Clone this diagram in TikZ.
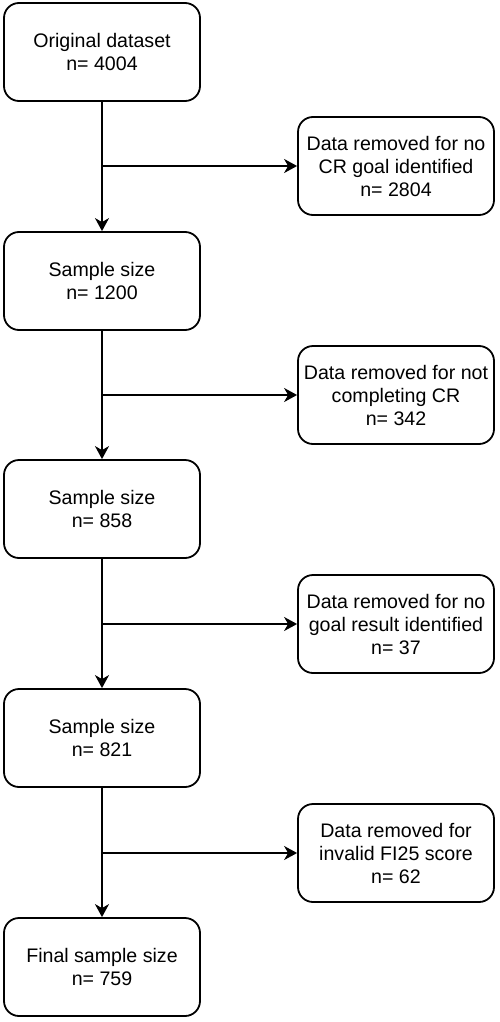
\documentclass[tikz,border=0pt]{standalone}
\usepackage{fontspec}
\setmainfont{Liberation Sans}
\usetikzlibrary{arrows.meta}
\begin{document}
\begin{tikzpicture}[x=1pt,y=-1pt,
  box/.style={draw, line width=1.8pt, rounded corners=15pt, minimum width=196pt, minimum height=98pt, align=center, inner sep=0pt, font=\fontsize{19.6}{23}\selectfont},
  conn/.style={line width=1.8pt, -{Stealth[width=14pt,length=13pt,inset=4pt]}}]
\useasboundingbox (0,0) rectangle (500,1022);
\node[box] (a1) at (102,52) {Original dataset\\n= 4004};
\node[box] (a2) at (102,281) {Sample size\\n= 1200};
\node[box] (a3) at (102,509) {Sample size\\n= 858};
\node[box] (a4) at (102,738) {Sample size\\n= 821};
\node[box] (a5) at (102,967) {Final sample size\\n= 759};
\node[box] (r1) at (396,166) {Data removed for no\\CR goal identified\\n= 2804};
\node[box] (r2) at (396,395) {Data removed for not\\completing CR\\n= 342};
\node[box] (r3) at (396,624) {Data removed for no\\goal result identified\\n= 37};
\node[box] (r4) at (396,853) {Data removed for\\invalid FI25 score\\n= 62};
\foreach \i/\j/\r in {a1/a2/r1,a2/a3/r2,a3/a4/r3,a4/a5/r4}{
  \draw[conn] (\i.south) -- (\j.north);
  \coordinate (m\r) at (\i.south |- \r.west);
  \draw[conn] (m\r) -- (\r.west);
}
\end{tikzpicture}
\end{document}
